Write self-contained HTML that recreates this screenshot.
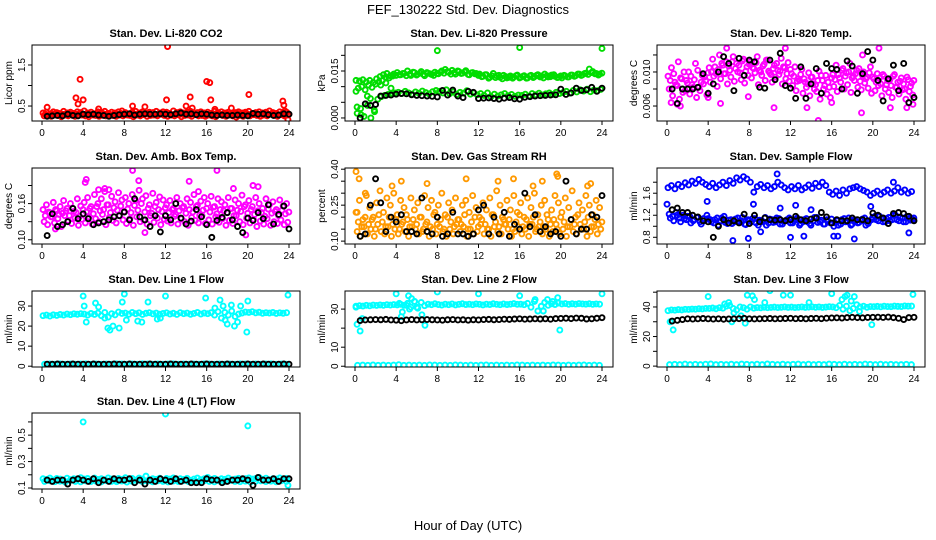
<!DOCTYPE html>
<html><head><meta charset="utf-8"><title>FEF_130222 Std. Dev. Diagnostics</title>
<style>html,body{margin:0;padding:0;background:#fff;}svg{display:block;font-family:"Liberation Sans",Arial,sans-serif;}</style>
</head><body>
<svg id="chart" width="936" height="540" viewBox="0 0 936 540" xmlns="http://www.w3.org/2000/svg">
<text x="468" y="14" text-anchor="middle" font-size="13">FEF_130222  Std. Dev. Diagnostics</text>
<text x="468" y="530" text-anchor="middle" font-size="13">Hour of Day (UTC)</text>
</svg>
<script>
// ---- data ----
const xTickLabels = ["0","4","8","12","16","20","24"];
const p1RedA = [0.33,0.35,0.31,0.36,0.34,0.30,0.37,0.33,0.35,0.32,0.36,0.34,0.38,0.33,0.35,0.31,0.36,0.34,0.37,0.32,0.35,0.33,0.36,0.38,0.34,0.31,0.35,0.37,0.33,0.36,0.32,0.35,0.34,0.37,0.33,0.36,0.35,0.32,0.38,0.34,0.36,0.33,0.35,0.37,0.31,0.34,0.36,0.33,0.35,0.32,0.37,0.34,0.36,0.33,0.35,0.31,0.34,0.36,0.33,0.35,0.37,0.32,0.34,0.36,0.33,0.35,0.38,0.34,0.32,0.36,0.33,0.35];
const p1RedB = [0.26,0.28,0.25,0.29,0.27,0.24,0.28,0.26,0.29,0.25,0.27,0.28,0.26,0.24,0.29,0.27,0.25,0.28,0.26,0.30,0.27,0.25,0.28,0.26,0.29,0.27,0.24,0.28,0.26,0.29,0.25,0.27,0.28,0.26,0.30,0.27,0.25,0.28,0.26,0.29,0.24,0.27,0.28,0.25,0.29,0.26,0.27,0.25,0.28,0.26,0.24,0.29,0.27,0.25,0.28,0.26,0.23,0.27,0.25,0.28,0.26,0.29,0.27,0.25,0.28,0.26,0.30,0.27,0.25,0.29,0.26,0.28];
const p1RedC = [0.30,0.29,0.31,0.28,0.32,0.30,0.29,0.31,0.28,0.30,0.32,0.29,0.31,0.30,0.28,0.32,0.29,0.31,0.30,0.28,0.31,0.29,0.32,0.30,0.28,0.31,0.30,0.29,0.32,0.30,0.31,0.28,0.30,0.29,0.31,0.32,0.30,0.28,0.31,0.29,0.30,0.32,0.28,0.31,0.29,0.30,0.31,0.28,0.30,0.29,0.32,0.30,0.28,0.31,0.29,0.30,0.32,0.28,0.31,0.30,0.29,0.31,0.28,0.30,0.32,0.29,0.31,0.30,0.28,0.31,0.29,0.30];
const p1OutX = [0.5,3.3,3.5,3.7,4.0,5.5,8.8,10.0,12.1,12.2,14.0,14.4,14.6,16.0,16.3,16.4,16.8,18.4,20.1,23.4,23.5,23.6,23.9];
const p1OutY = [0.47,0.70,0.55,1.15,0.65,0.43,0.50,0.48,0.65,1.95,0.50,0.72,0.45,1.10,1.07,0.65,0.42,0.45,0.78,0.62,0.52,0.38,0.17];
const p1Black = [0.25,0.26,0.27,0.26,0.30,0.27,0.26,0.30,0.29,0.30,0.28,0.27,0.25,0.27,0.29,0.30,0.31,0.28,0.30,0.31,0.30,0.30,0.31,0.30,0.29,0.31,0.33,0.30,0.31,0.29,0.31,0.30,0.28,0.27,0.28,0.27,0.27,0.28,0.27,0.26,0.32,0.30,0.31,0.29,0.27,0.28,0.31,0.30];

const p2GreenA = [0.0120,0.0118,0.0122,0.0115,0.0120,0.0113,0.0125,0.0132,0.0138,0.0142,0.0135,0.0140,0.0145,0.0138,0.0142,0.0150,0.0136,0.0145,0.0140,0.0148,0.0135,0.0143,0.0139,0.0146,0.0141,0.0150,0.0155,0.0146,0.0152,0.0140,0.0148,0.0143,0.0151,0.0138,0.0145,0.0142,0.0140,0.0133,0.0138,0.0130,0.0142,0.0135,0.0130,0.0136,0.0128,0.0134,0.0131,0.0137,0.0130,0.0135,0.0128,0.0136,0.0132,0.0138,0.0134,0.0140,0.0131,0.0137,0.0133,0.0130,0.0128,0.0134,0.0131,0.0137,0.0135,0.0140,0.0138,0.0143,0.0156,0.0148,0.0142,0.0140];
const p2GreenB = [0.0015,0.0030,0.0005,0.0040,0.0000,0.0025,0.0060,0.0068,0.0072,0.0075,0.0078,0.0080,0.0082,0.0078,0.0085,0.0080,0.0076,0.0083,0.0079,0.0086,0.0081,0.0077,0.0084,0.0088,0.0085,0.0080,0.0090,0.0078,0.0083,0.0075,0.0082,0.0079,0.0087,0.0076,0.0080,0.0074,0.0078,0.0072,0.0080,0.0068,0.0076,0.0070,0.0074,0.0078,0.0071,0.0075,0.0069,0.0073,0.0072,0.0076,0.0070,0.0078,0.0074,0.0079,0.0073,0.0077,0.0080,0.0075,0.0082,0.0078,0.0081,0.0085,0.0079,0.0088,0.0083,0.0090,0.0086,0.0092,0.0084,0.0089,0.0087,0.0091];
const p2GreenC = [0.0095,0.0100,0.0090,0.0105,0.0098,0.0108,0.0115,0.0120,0.0130,0.0128,0.0134,0.0136,0.0138,0.0142,0.0135,0.0140,0.0146,0.0137,0.0143,0.0139,0.0145,0.0141,0.0136,0.0142,0.0146,0.0143,0.0148,0.0140,0.0145,0.0150,0.0142,0.0147,0.0139,0.0144,0.0141,0.0136,0.0132,0.0138,0.0127,0.0134,0.0129,0.0136,0.0125,0.0132,0.0130,0.0127,0.0135,0.0128,0.0133,0.0127,0.0134,0.0129,0.0136,0.0131,0.0128,0.0135,0.0132,0.0138,0.0129,0.0134,0.0136,0.0131,0.0137,0.0133,0.0140,0.0136,0.0142,0.0139,0.0145,0.0141,0.0137,0.0143];
const p2OutX = [0.1,0.2,8.0,16.0,24.0,2.5,3.0,3.5,1.5,1.2,0.6,1.9];
const p2OutY = [0.0085,0.0035,0.0215,0.0225,0.0222,0.0105,0.0112,0.0095,0.0062,0.0070,0.0010,0.0020];
const p2Black = [0.0000,0.0045,0.0040,0.0043,0.0070,0.0072,0.0073,0.0076,0.0078,0.0077,0.0074,0.0072,0.0071,0.0070,0.0069,0.0067,0.0088,0.0073,0.0089,0.0070,0.0065,0.0085,0.0082,0.0062,0.0063,0.0064,0.0062,0.0060,0.0063,0.0065,0.0061,0.0060,0.0066,0.0068,0.0070,0.0071,0.0072,0.0073,0.0074,0.0092,0.0075,0.0080,0.0095,0.0088,0.0090,0.0098,0.0085,0.0095];

const p3MagA = [0.0095,0.0105,0.0088,0.0112,0.0092,0.0078,0.0100,0.0085,0.0110,0.0082,0.0096,0.0090,0.0105,0.0115,0.0098,0.0120,0.0108,0.0112,0.0102,0.0118,0.0110,0.0099,0.0115,0.0106,0.0112,0.0104,0.0118,0.0100,0.0109,0.0114,0.0097,0.0108,0.0102,0.0116,0.0105,0.0111,0.0098,0.0106,0.0092,0.0103,0.0088,0.0099,0.0094,0.0085,0.0101,0.0090,0.0096,0.0082,0.0097,0.0108,0.0093,0.0104,0.0099,0.0110,0.0095,0.0102,0.0089,0.0100,0.0094,0.0106,0.0092,0.0098,0.0086,0.0095,0.0090,0.0084,0.0097,0.0088,0.0093,0.0080,0.0091,0.0087];
const p3MagB = [0.0080,0.0072,0.0085,0.0068,0.0076,0.0090,0.0074,0.0082,0.0070,0.0078,0.0086,0.0073,0.0088,0.0095,0.0083,0.0092,0.0098,0.0086,0.0094,0.0089,0.0100,0.0091,0.0087,0.0096,0.0093,0.0099,0.0085,0.0096,0.0090,0.0101,0.0088,0.0094,0.0097,0.0086,0.0092,0.0089,0.0084,0.0078,0.0090,0.0075,0.0082,0.0072,0.0086,0.0077,0.0068,0.0080,0.0074,0.0070,0.0083,0.0077,0.0088,0.0080,0.0085,0.0076,0.0090,0.0082,0.0079,0.0087,0.0081,0.0075,0.0078,0.0084,0.0072,0.0080,0.0076,0.0070,0.0082,0.0074,0.0079,0.0068,0.0077,0.0073];
const p3MagC = [0.0090,0.0098,0.0084,0.0093,0.0100,0.0087,0.0095,0.0091,0.0102,0.0088,0.0094,0.0099,0.0100,0.0106,0.0103,0.0110,0.0098,0.0107,0.0112,0.0104,0.0108,0.0113,0.0101,0.0109,0.0105,0.0111,0.0102,0.0107,0.0114,0.0099,0.0104,0.0110,0.0101,0.0106,0.0098,0.0103,0.0095,0.0089,0.0097,0.0092,0.0086,0.0094,0.0080,0.0090,0.0096,0.0084,0.0088,0.0093,0.0091,0.0097,0.0102,0.0095,0.0100,0.0093,0.0098,0.0104,0.0096,0.0092,0.0099,0.0094,0.0088,0.0093,0.0097,0.0085,0.0091,0.0095,0.0082,0.0089,0.0086,0.0094,0.0083,0.0090];
const p3OutX = [1.0,1.3,0.4,5.2,5.8,7.9,10.4,13.6,14.7,16.0,18.9,20.6,21.7,23.3,23.9,4.0,11.5,19.0];
const p3OutY = [0.0062,0.0060,0.0064,0.0063,0.0128,0.0071,0.0058,0.0058,0.0043,0.0064,0.0052,0.0128,0.0058,0.0058,0.0062,0.0070,0.0128,0.0120];
const p3Black = [0.0080,0.0063,0.0080,0.0080,0.0080,0.0082,0.0098,0.0075,0.0086,0.0100,0.0118,0.0110,0.0078,0.0116,0.0096,0.0114,0.0112,0.0082,0.0081,0.0114,0.0091,0.0122,0.0084,0.0081,0.0069,0.0106,0.0069,0.0086,0.0104,0.0075,0.0110,0.0104,0.0103,0.0080,0.0113,0.0107,0.0075,0.0098,0.0124,0.0114,0.0090,0.0066,0.0092,0.0108,0.0078,0.0110,0.0064,0.0070];

const p4MagA = [0.150,0.158,0.145,0.162,0.148,0.155,0.165,0.152,0.160,0.147,0.168,0.156,0.162,0.170,0.155,0.175,0.160,0.168,0.180,0.158,0.172,0.163,0.178,0.166,0.170,0.160,0.175,0.165,0.182,0.168,0.173,0.158,0.177,0.162,0.171,0.166,0.158,0.165,0.152,0.170,0.160,0.155,0.168,0.162,0.175,0.157,0.164,0.170,0.160,0.172,0.155,0.168,0.163,0.158,0.170,0.152,0.166,0.160,0.174,0.158,0.165,0.155,0.170,0.160,0.152,0.168,0.158,0.163,0.150,0.166,0.156,0.160];
const p4MagB = [0.130,0.125,0.138,0.128,0.135,0.122,0.140,0.132,0.127,0.136,0.124,0.134,0.128,0.138,0.126,0.135,0.130,0.142,0.125,0.137,0.132,0.128,0.140,0.133,0.127,0.135,0.124,0.138,0.130,0.133,0.126,0.140,0.129,0.136,0.125,0.134,0.131,0.128,0.139,0.126,0.135,0.130,0.124,0.137,0.132,0.128,0.140,0.127,0.133,0.126,0.138,0.129,0.135,0.124,0.132,0.127,0.140,0.130,0.125,0.136,0.128,0.134,0.122,0.131,0.126,0.135,0.124,0.130,0.127,0.133,0.125,0.129];
const p4MagC = [0.140,0.146,0.138,0.150,0.142,0.144,0.148,0.140,0.152,0.145,0.139,0.150,0.146,0.152,0.143,0.155,0.148,0.150,0.158,0.145,0.153,0.149,0.156,0.147,0.151,0.145,0.157,0.149,0.160,0.146,0.152,0.144,0.155,0.150,0.147,0.153,0.145,0.150,0.142,0.148,0.153,0.144,0.150,0.146,0.155,0.141,0.149,0.152,0.146,0.154,0.143,0.150,0.148,0.145,0.152,0.140,0.149,0.147,0.155,0.144,0.150,0.142,0.148,0.145,0.139,0.151,0.144,0.147,0.140,0.149,0.143,0.146];
const p4OutX = [4.3,4.2,8.8,9.4,6.1,6.5,14.3,17.0,18.6,21.0,19.8,15.2,5.5,10.0,1.3,20.5];
const p4OutY = [0.200,0.195,0.215,0.198,0.185,0.183,0.197,0.215,0.185,0.188,0.108,0.180,0.183,0.112,0.118,0.190];
const p4Black = [0.107,0.143,0.122,0.125,0.130,0.152,0.135,0.143,0.135,0.125,0.128,0.130,0.133,0.138,0.140,0.146,0.133,0.168,0.138,0.133,0.122,0.140,0.113,0.140,0.133,0.160,0.136,0.126,0.131,0.150,0.138,0.125,0.104,0.132,0.137,0.145,0.133,0.122,0.112,0.136,0.132,0.145,0.135,0.158,0.126,0.142,0.156,0.118];

const p5OrgA = [0.22,0.27,0.19,0.29,0.24,0.20,0.26,0.31,0.22,0.28,0.25,0.30,0.21,0.27,0.24,0.19,0.28,0.23,0.26,0.20,0.29,0.24,0.27,0.22,0.25,0.30,0.21,0.26,0.23,0.28,0.19,0.25,0.27,0.22,0.29,0.24,0.20,0.26,0.23,0.28,0.21,0.31,0.25,0.19,0.27,0.23,0.29,0.22,0.26,0.20,0.28,0.24,0.30,0.21,0.25,0.27,0.19,0.23,0.29,0.26,0.22,0.28,0.24,0.31,0.20,0.26,0.23,0.29,0.25,0.21,0.27,0.24];
const p5OrgB = [0.14,0.12,0.16,0.13,0.15,0.12,0.17,0.14,0.13,0.16,0.12,0.15,0.13,0.17,0.14,0.12,0.16,0.15,0.13,0.14,0.17,0.12,0.15,0.13,0.16,0.14,0.12,0.15,0.13,0.17,0.14,0.16,0.12,0.15,0.13,0.14,0.17,0.13,0.15,0.12,0.16,0.14,0.13,0.17,0.15,0.12,0.14,0.16,0.13,0.15,0.12,0.17,0.14,0.16,0.13,0.15,0.12,0.14,0.17,0.13,0.15,0.12,0.16,0.14,0.13,0.17,0.15,0.12,0.14,0.16,0.13,0.15];
const p5OrgC = [0.18,0.16,0.20,0.17,0.19,0.15,0.21,0.18,0.16,0.20,0.17,0.19,0.15,0.18,0.21,0.16,0.19,0.17,0.20,0.15,0.18,0.16,0.21,0.17,0.19,0.15,0.20,0.18,0.16,0.19,0.17,0.21,0.15,0.18,0.20,0.16,0.19,0.17,0.15,0.21,0.18,0.16,0.20,0.17,0.19,0.15,0.18,0.21,0.16,0.19,0.17,0.20,0.15,0.18,0.16,0.21,0.17,0.19,0.15,0.20,0.18,0.16,0.19,0.17,0.21,0.15,0.18,0.20,0.16,0.19,0.17,0.18];
const p5OutX = [0.1,0.4,1.0,3.6,7.0,10.8,13.9,15.4,17.3,18.2,19.6,19.7,22.6,22.9,0.2,4.5];
const p5OutY = [0.39,0.36,0.30,0.33,0.34,0.36,0.35,0.36,0.33,0.35,0.38,0.37,0.33,0.34,0.22,0.35];
const p5Black = [0.12,0.13,0.25,0.36,0.26,0.14,0.20,0.18,0.21,0.14,0.14,0.13,0.28,0.14,0.13,0.20,0.12,0.13,0.22,0.13,0.13,0.12,0.13,0.23,0.25,0.13,0.20,0.13,0.22,0.12,0.17,0.15,0.30,0.16,0.21,0.14,0.16,0.13,0.14,0.12,0.35,0.19,0.13,0.15,0.15,0.21,0.20,0.29];

const p6BlueA = [1.70,1.74,1.68,1.76,1.72,1.79,1.75,1.82,1.78,1.85,1.80,1.76,1.72,1.78,1.70,1.75,1.80,1.74,1.83,1.78,1.88,1.84,1.90,1.86,1.80,1.62,1.72,1.76,1.70,1.74,1.68,1.72,1.80,1.75,1.70,1.66,1.72,1.68,1.74,1.66,1.70,1.75,1.69,1.78,1.72,1.80,1.74,1.62,1.58,1.64,1.56,1.66,1.60,1.68,1.70,1.72,1.68,1.65,1.62,1.56,1.60,1.64,1.58,1.62,1.66,1.60,1.64,1.70,1.62,1.66,1.60,1.63];
const p6BlueB = [1.22,1.18,1.25,1.15,1.20,1.12,1.18,1.10,1.16,1.08,1.14,1.20,1.12,1.06,1.15,1.10,1.18,1.05,1.12,1.08,1.15,1.10,1.04,1.12,1.08,1.14,1.02,1.10,1.16,1.06,1.12,1.08,1.14,1.04,1.10,1.15,1.06,1.12,1.02,1.08,1.14,1.05,1.10,1.16,1.08,1.04,1.12,1.06,1.00,1.10,1.04,1.14,1.08,1.02,1.12,1.06,1.10,1.15,1.05,1.12,1.18,1.10,1.14,1.08,1.16,1.12,1.20,1.10,1.15,1.08,1.14,1.12];
const p6BlueC = [1.15,1.10,1.20,1.08,1.13,1.18,1.06,1.12,1.16,1.04,1.10,1.14,1.08,1.12,1.02,1.15,1.07,1.11,1.05,1.13,1.09,1.16,1.03,1.10,1.14,1.06,1.11,1.08,1.02,1.13,1.07,1.15,1.04,1.09,1.12,1.06,1.10,1.15,1.05,1.12,1.08,1.02,1.16,1.07,1.11,1.04,1.09,1.13,1.06,1.02,1.12,1.08,1.15,1.04,1.10,1.07,1.13,1.02,1.09,1.16,1.12,1.18,1.08,1.14,1.10,1.20,1.12,1.16,1.08,1.18,1.11,1.15];
const p6OutX = [0.0,3.9,6.4,7.9,10.7,12.0,12.5,13.3,16.2,16.6,18.2,22.0,23.5,8.4,9.1,14.0,11.0,19.8];
const p6OutY = [1.40,1.45,0.74,0.78,1.95,0.80,1.38,0.82,0.82,0.82,0.77,1.80,0.88,1.40,0.90,1.30,1.33,1.36];
const p6Black = [1.30,1.33,1.25,1.25,1.20,1.17,1.10,1.08,0.80,1.00,1.12,1.06,1.10,1.06,1.22,1.05,1.20,1.08,1.15,1.12,1.11,1.12,1.10,1.12,1.18,1.12,1.10,1.13,1.15,1.25,1.17,1.06,1.12,1.10,1.10,1.15,1.12,1.12,1.10,1.24,1.20,1.15,1.05,1.23,1.25,1.23,1.18,1.10];

const p7CyanA = [25.2,25.5,25.0,25.6,25.3,25.8,25.5,26.0,25.7,26.1,25.9,26.2,26.0,25.5,26.3,25.8,26.5,25.2,26.8,24.5,26.2,25.6,27.0,26.3,26.5,25.9,26.8,26.2,26.6,25.8,26.4,26.7,26.1,26.5,25.9,26.3,26.6,26.0,26.4,25.8,26.7,26.2,26.5,25.9,26.3,26.8,26.0,26.5,26.2,26.7,25.5,27.2,24.0,26.8,25.5,27.5,24.8,26.0,26.5,27.0,26.8,27.2,26.6,26.9,26.4,26.7,26.5,26.8,26.3,26.6,26.4,26.7];
const p7CyanB = [1.0,1.1,1.0,1.2,1.0,1.1,1.0,1.1,1.2,1.0,1.1,1.0,1.1,1.0,1.2,1.1,1.0,1.1,1.0,1.2,1.1,1.0,1.1,1.0,1.1,1.2,1.0,1.1,1.0,1.1,1.0,1.2,1.1,1.0,1.1,1.0,1.1,1.0,1.2,1.1,1.0,1.1,1.0,1.1,1.2,1.0,1.1,1.0];
const p7OutX = [4.0,4.3,4.1,5.2,5.5,6.4,6.6,6.9,7.5,7.8,8.0,8.2,9.3,9.7,10.3,11.2,11.5,12.0,15.9,17.3,17.6,18.0,17.8,18.4,18.7,19.0,19.3,20.0,19.9,23.9,6.1,16.8];
const p7OutY = [35.0,22.0,30.0,31.5,29.5,19.0,18.0,20.0,19.0,32.0,36.0,23.0,22.5,22.0,32.0,23.5,24.0,35.0,34.0,33.0,30.0,21.0,23.0,30.5,20.0,22.0,30.0,32.5,17.0,35.5,24.0,29.0];
const p7Black = [1.0,1.0,1.1,1.0,1.0,1.1,1.0,1.0,1.0,1.1,1.0,1.0,1.0,1.1,1.0,1.0,1.1,1.0,1.0,1.0,1.1,1.0,1.0,1.0,1.1,1.0,1.0,1.0,1.1,1.0,1.0,1.1,1.0,1.0,1.0,1.1,1.0,1.0,1.0,1.1,1.0,1.0,1.1,1.0,1.0,1.0,1.1,1.0];

const p8CyanA = [31.5,31.8,31.6,32.0,31.7,32.1,31.9,32.2,32.0,32.3,32.1,32.4,32.2,32.5,32.0,33.0,31.0,34.0,30.5,33.5,31.8,32.6,32.3,32.8,32.4,32.1,32.6,32.3,32.7,32.2,32.5,32.8,32.4,32.6,32.3,32.7,32.5,32.2,32.6,32.4,32.8,32.5,32.3,32.7,32.4,32.6,32.9,32.5,32.6,32.3,33.0,31.0,34.0,29.0,31.5,33.5,32.0,32.8,32.4,33.2,32.7,32.9,32.5,32.8,32.6,32.9,32.7,32.6,32.8,32.5,32.7,32.6];
const p8CyanB = [0.5,0.6,0.5,0.7,0.5,0.6,0.5,0.6,0.8,0.5,0.6,0.5,0.6,0.5,0.7,0.6,0.5,0.6,0.5,0.7,0.6,0.5,0.6,0.5,0.6,0.7,0.5,0.6,0.5,0.6,0.5,0.7,0.6,0.5,0.6,0.5,0.6,0.5,0.7,0.6,0.5,0.6,0.5,0.6,0.7,0.5,0.6,0.5];
const p8OutX = [0.2,0.5,0.7,0.1,4.0,4.3,4.6,5.0,5.2,5.5,5.8,6.0,6.5,6.8,8.0,12.0,16.0,17.5,18.3,18.7,19.2,19.7,19.9,24.0,4.5,5.3];
const p8OutY = [22.0,18.5,25.0,31.0,38.0,33.0,28.5,32.0,37.0,35.5,34.0,31.0,27.0,21.5,39.0,38.0,37.0,35.0,29.0,35.0,34.0,36.0,19.0,38.0,26.0,30.0];
const p8Black = [24.0,24.3,24.4,24.5,24.4,24.6,24.3,24.2,23.9,24.3,24.5,24.3,24.4,24.5,24.4,24.3,24.2,24.4,24.5,24.3,24.4,24.2,24.4,24.3,24.5,24.6,24.4,24.5,24.7,24.6,24.8,24.9,24.7,24.8,24.9,24.8,24.9,24.7,25.0,25.1,25.2,25.0,25.3,25.2,24.8,24.9,25.2,25.5];

const p9CyanA = [37.5,38.0,37.8,38.2,38.0,38.4,38.3,38.6,38.5,38.8,38.7,39.0,39.0,39.3,38.8,39.5,39.2,40.5,41.0,39.0,38.0,40.0,39.5,38.5,40.0,39.2,39.6,39.4,39.8,39.5,39.7,39.9,39.6,39.8,40.0,39.7,39.9,39.6,39.8,40.0,39.7,39.9,40.1,39.8,40.0,39.7,39.9,40.2,40.0,39.5,41.0,38.5,40.5,37.5,39.0,41.5,40.0,40.5,39.8,40.3,40.2,40.4,40.1,40.5,40.3,40.2,40.6,40.4,40.3,40.7,40.5,40.6];
const p9CyanB = [1.0,1.2,1.0,1.4,1.0,1.2,1.0,1.3,1.5,1.0,1.2,1.0,1.3,1.0,1.4,1.2,1.0,1.3,1.0,1.5,1.2,1.0,1.3,1.0,1.2,1.4,1.0,1.3,1.0,1.2,1.0,1.4,1.2,1.0,1.3,1.0,1.2,1.0,1.4,1.2,1.0,1.3,1.0,1.2,1.0,1.0,1.2,1.0];
const p9OutX = [0.3,0.6,4.0,5.6,6.0,6.3,7.6,7.8,8.3,8.5,9.5,10.0,11.3,12.0,13.8,16.0,17.0,17.3,17.5,17.9,18.2,18.7,19.9,23.9,6.5,7.2];
const p9OutY = [30.0,24.5,47.0,42.0,43.0,30.0,29.0,48.0,47.5,45.0,43.0,51.0,48.0,48.0,43.0,49.0,45.0,47.0,48.0,44.0,47.0,37.0,28.0,48.5,36.0,34.0];
const p9Black = [30.5,31.0,31.5,32.0,31.8,32.0,32.2,32.0,31.8,32.0,31.7,31.9,32.0,32.1,32.3,32.0,31.9,32.0,32.1,32.2,32.0,32.1,32.2,32.3,32.1,32.2,32.0,32.2,32.3,32.1,32.4,32.6,32.7,32.5,32.8,33.0,32.8,32.7,32.9,33.0,33.1,32.9,33.2,32.8,32.3,31.5,32.8,33.0];

const p10CyanA = [0.170,0.165,0.175,0.160,0.172,0.168,0.158,0.174,0.163,0.170,0.166,0.178,0.168,0.172,0.160,0.175,0.165,0.170,0.162,0.176,0.168,0.158,0.172,0.165,0.178,0.166,0.172,0.160,0.175,0.168,0.190,0.163,0.170,0.166,0.174,0.160,0.172,0.168,0.176,0.162,0.170,0.165,0.173,0.158,0.168,0.175,0.163,0.170,0.180,0.165,0.172,0.160,0.170,0.166,0.175,0.162,0.168,0.173,0.165,0.170,0.176,0.168,0.172,0.180,0.166,0.174,0.162,0.170,0.168,0.176,0.165,0.172];
const p10CyanB = [0.150,0.155,0.148,0.152,0.145,0.156,0.150,0.147,0.154,0.149,0.152,0.146,0.155,0.150,0.148,0.153,0.145,0.151,0.156,0.149,0.152,0.147,0.154,0.150,0.146,0.153,0.149,0.155,0.148,0.151,0.146,0.154,0.150,0.147,0.153,0.149,0.156,0.150,0.148,0.152,0.145,0.151,0.154,0.149,0.152,0.147,0.155,0.150];
const p10OutX = [4.0,12.0,20.0,23.9];
const p10OutY = [0.60,0.66,0.57,0.12];
const p10Black = [0.16,0.15,0.16,0.16,0.13,0.16,0.17,0.16,0.15,0.17,0.14,0.16,0.15,0.17,0.16,0.16,0.17,0.14,0.16,0.13,0.16,0.15,0.17,0.16,0.15,0.17,0.15,0.16,0.14,0.14,0.14,0.17,0.16,0.16,0.14,0.15,0.16,0.16,0.17,0.16,0.12,0.18,0.16,0.16,0.17,0.15,0.17,0.17];

// ---- panel configuration ----
const panels = [
 {key:'co2',title:'Stan. Dev. Li-820 CO2',ylab:'Licor ppm',col:0,row:0,ylim:[0.135,1.987],ticks:[0.5,1.0,1.5],tickLabels:['0.5','','1.5'],color:'#ff0000',
  series:[p1RedA,p1RedB,p1RedC],outX:p1OutX,outY:p1OutY,black:p1Black},
 {key:'pressure',title:'Stan. Dev. Li-820 Pressure',ylab:'kPa',col:1,row:0,ylim:[-0.00097,0.0233],ticks:[0,0.005,0.010,0.015,0.020],tickLabels:['0.000','','','0.015',''],color:'#00dd00',
  series:[p2GreenA,p2GreenB,p2GreenC],outX:p2OutX,outY:p2OutY,black:p2Black},
 {key:'li-temp',title:'Stan. Dev. Li-820 Temp.',ylab:'degrees C',col:2,row:0,ylim:[0.00424,0.01317],ticks:[0.006,0.008,0.010,0.012],tickLabels:['0.006','','0.010',''],color:'#ff00ff',
  series:[p3MagA,p3MagB,p3MagC],outX:p3OutX,outY:p3OutY,black:p3Black},
 {key:'box-temp',title:'Stan. Dev. Amb. Box Temp.',ylab:'degrees C',col:0,row:1,ylim:[0.093,0.219],ticks:[0.10,0.13,0.16,0.19],tickLabels:['0.10','','0.16',''],color:'#ff00ff',
  series:[p4MagA,p4MagB,p4MagC],outX:p4OutX,outY:p4OutY,black:p4Black},
 {key:'rh',title:'Stan. Dev. Gas Stream RH',ylab:'percent',col:1,row:1,ylim:[0.088,0.405],ticks:[0.10,0.15,0.20,0.25,0.30,0.35,0.40],tickLabels:['0.10','','','0.25','','','0.40'],color:'#ff9900',
  series:[p5OrgA,p5OrgB,p5OrgC],outX:p5OutX,outY:p5OutY,black:p5Black},
 {key:'sample-flow',title:'Stan. Dev. Sample Flow',ylab:'ml/min',col:2,row:1,ylim:[0.678,2.058],ticks:[0.8,1.0,1.2,1.4,1.6,1.8],tickLabels:['0.8','','1.2','','1.6',''],color:'#0000ff',
  series:[p6BlueA,p6BlueB,p6BlueC],outX:p6OutX,outY:p6OutY,black:p6Black},
 {key:'line1',title:'Stan. Dev. Line 1 Flow',ylab:'ml/min',col:0,row:2,ylim:[-0.4,37.5],ticks:[0,10,20,30],tickLabels:['0','10','20','30'],color:'#00ffff',
  series:[p7CyanA,p7CyanB],outX:p7OutX,outY:p7OutY,black:p7Black},
 {key:'line2',title:'Stan. Dev. Line 2 Flow',ylab:'ml/min',col:1,row:2,ylim:[-0.4,39.5],ticks:[0,10,20,30],tickLabels:['0','10','','30'],color:'#00ffff',
  series:[p8CyanA,p8CyanB],outX:p8OutX,outY:p8OutY,black:p8Black},
 {key:'line3',title:'Stan. Dev. Line 3 Flow',ylab:'ml/min',col:2,row:2,ylim:[-0.6,50.8],ticks:[0,10,20,30,40,50],tickLabels:['0','','20','','40',''],color:'#00ffff',
  series:[p9CyanA,p9CyanB],outX:p9OutX,outY:p9OutY,black:p9Black},
 {key:'line4',title:'Stan. Dev. Line 4 (LT) Flow',ylab:'ml/min',col:0,row:3,ylim:[0.0925,0.6675],ticks:[0.1,0.2,0.3,0.4,0.5,0.6],tickLabels:['0.1','','0.3','','0.5',''],color:'#00ffff',
  series:[p10CyanA,p10CyanB],outX:p10OutX,outY:p10OutY,black:p10Black}
];
const xTicks = [0,4,8,12,16,20,24];

// ---- drawing ----
const NS = 'http://www.w3.org/2000/svg';
const svg = document.getElementById('chart');
const colLeft = [32,345,657], rowTop = [45,168,291,413], boxW = 268, boxH = 76;
function mk(tag, attrs, parent){ const e=document.createElementNS(NS,tag); for(const k in attrs) e.setAttribute(k,attrs[k]); parent.appendChild(e); return e; }

panels.forEach(p=>{
  const L = colLeft[p.col], T = rowTop[p.row];
  const xScale = h => L + 10 + h*(247/24);
  const yScale = v => T + (p.ylim[1]-v)/(p.ylim[1]-p.ylim[0])*boxH;
  const g = mk('g',{},svg);
  
  
  const t = mk('text',{x:L+boxW/2,y:T-8,'text-anchor':'middle','font-size':'11','font-weight':'bold'},g);
  t.textContent = p.title;
  
  
  const cid = 'clip-' + p.key;
  const cp = mk('clipPath',{id:cid},g);
  mk('rect',{x:L,y:T,width:boxW,height:boxH},cp);
  const pts = mk('g',{'clip-path':'url(#'+cid+')',fill:'none','stroke-width':'1.9'},g);
  
  
  p.series.forEach((arr,si)=>{
    const step = arr.length > 60 ? 1/3 : 0.5;
    const off = arr.length > 60 ? 0.1 + si*0.11 : 0.25;
    arr.forEach((v,i)=>{
      const c = mk('circle',{cx:xScale(off+i*step),cy:yScale(v),r:2.5,stroke:p.color},pts);
      
      
    });
  });
  p.outX.forEach((h,i)=>{
    const c = mk('circle',{cx:xScale(h),cy:yScale(p.outY[i]),r:2.5,stroke:p.color},pts);
    
    
  });
  p.black.forEach((v,i)=>{
    const c = mk('circle',{cx:xScale(0.5+i*0.5),cy:yScale(v),r:2.5,stroke:'#000'},pts);
    
    
  });
  const box = mk('rect',{x:L,y:T,width:boxW,height:boxH,fill:'none',stroke:'#000','stroke-width':'1'},g);
  
  
  const xa = mk('g',{},g);
  
  
  mk('line',{x1:xScale(0),x2:xScale(24),y1:T+boxH,y2:T+boxH,stroke:'#000'},xa);
  xTicks.forEach((h,i)=>{
    mk('line',{x1:xScale(h),x2:xScale(h),y1:T+boxH,y2:T+boxH+4,stroke:'#000'},xa);
    const tl = mk('text',{x:xScale(h),y:T+boxH+15,'text-anchor':'middle','font-size':'10'},xa);
    tl.textContent = xTickLabels[i];
    
    
  });
  const ya = mk('g',{},g);
  
  
  p.ticks.forEach((v,i)=>{
    const y = yScale(v);
    mk('line',{x1:L-4,x2:L,y1:y,y2:y,stroke:'#000'},ya);
    if(p.tickLabels[i]){
      const tl = mk('text',{x:L-7,y:y,'text-anchor':'middle','font-size':'10',transform:'rotate(-90 '+(L-7)+' '+y+')'},ya);
      tl.textContent = p.tickLabels[i];
      
      
    }
  });
  const yl = mk('text',{x:L-20,y:T+boxH/2,'text-anchor':'middle','font-size':'10',transform:'rotate(-90 '+(L-20)+' '+(T+boxH/2)+')'},ya);
  yl.textContent = p.ylab;
  
  
});
</script>
</body></html>
